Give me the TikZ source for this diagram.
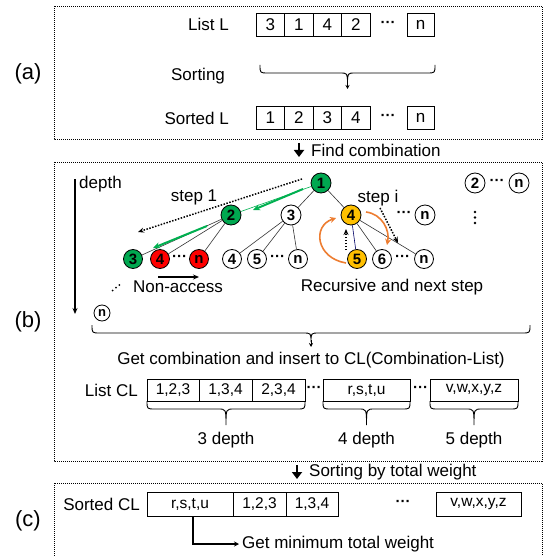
\documentclass[tikz,border=0pt]{standalone}
\usepackage{fontspec}
\setmainfont{Liberation Sans}
\usetikzlibrary{arrows.meta}
\definecolor{gN}{RGB}{0,168,80}
\definecolor{gA}{RGB}{0,176,80}
\definecolor{rN}{RGB}{255,0,0}
\definecolor{yN}{RGB}{255,192,0}
\definecolor{oA}{RGB}{237,125,49}
\newcommand\bracepath[4]{%
 \draw[line width=0.9pt] (#1,#3) .. controls (#1,{#3+8}) .. ({#1+8},{#3+8}) -- ({(#1+#2)/2-8},{#3+8}) .. controls ({(#1+#2)/2},{#3+8}) .. ({(#1+#2)/2},#4) .. controls ({(#1+#2)/2},{#3+8}) .. ({(#1+#2)/2+8},{#3+8}) -- ({#2-8},{#3+8}) .. controls (#2,{#3+8}) .. (#2,#3);}
\begin{document}
\begin{tikzpicture}[x=1pt,y=-1pt,
  lbl/.style={font=\fontsize{17}{17}\selectfont, inner sep=0pt},
  big/.style={font=\fontsize{22}{22}\selectfont, inner sep=0pt},
  cell/.style={draw, line width=0.8pt, minimum height=23pt, inner sep=0pt, font=\fontsize{17}{17}\selectfont},
  clcell/.style={draw, line width=0.8pt, minimum height=22pt, inner sep=0pt, font=\fontsize{15.5}{15.5}\selectfont},
  scell/.style={draw, line width=0.8pt, minimum height=24pt, inner sep=0pt, font=\fontsize{15.5}{15.5}\selectfont},
  dotbox/.style={draw, line width=0.8pt, dash pattern=on 1pt off 1pt},
  dots/.style={font=\fontsize{15}{15}\selectfont\bfseries, inner sep=0pt},
  tn/.style={circle, draw, line width=0.8pt, minimum size=20pt, inner sep=0pt, font=\fontsize{15}{15}\selectfont\bfseries},
  bn/.style={tn, minimum size=19pt},
  ed/.style={line width=0.6pt, draw=black!80},
  garr/.style={line width=2pt, draw=gA, -{Stealth[length=7pt,width=6pt]}},
  dotarr/.style={line width=1.5pt, dash pattern=on 1.5pt off 1.5pt, -{Stealth[length=6pt,width=5pt]}},
  oarr/.style={line width=1.6pt, draw=oA, -{Stealth[length=6pt,width=6pt]}},
  bigdown/.style={line width=2.2pt, -{Triangle[length=7pt,width=10pt]}}
]
\useasboundingbox (0,0) rectangle (546,556);
% section boxes
\draw[dotbox] (54,6) rectangle (542,139);
\draw[dotbox] (54,162) rectangle (542,461);
\draw[dotbox] (54,483) rectangle (542,575);
\node[big] (la) at (28,74) {(a)};
\node[big] (lb) at (28,322) {(b)};
\node[big] (lc) at (28,521) {(c)};

% ---------- (a)
\node[lbl, anchor=east] (listL) at (229,24.5) {List L};
\node[cell, minimum width=28.5pt] (a1) at (270.25,24.5) {3};
\node[cell, minimum width=28.5pt] (a2) at (298.75,24.5) {1};
\node[cell, minimum width=28.5pt] (a3) at (327.25,24.5) {4};
\node[cell, minimum width=28.5pt] (a4) at (355.75,24.5) {2};
\node[dots] (ad) at (388,24) {···};
\node[cell, minimum width=27pt] (an) at (420.5,24.5) {n};
\node[lbl] (sorting) at (198,76) {Sorting};
\bracepath{260}{435}{65}{84}
\coordinate (bt1) at (347.5,82);
\coordinate (bt2) at (347.5,89);
\draw[line width=0.9pt, -{Stealth[length=4pt,width=4pt]}] (bt1) -- (bt2);
\node[lbl, anchor=east] (sortedL) at (229,118) {Sorted L};
\node[cell, minimum width=28.5pt] (s1) at (270.25,118) {1};
\node[cell, minimum width=28.5pt] (s2) at (298.75,118) {2};
\node[cell, minimum width=28.5pt] (s3) at (327.25,118) {3};
\node[cell, minimum width=28.5pt] (s4) at (355.75,118) {4};
\node[dots] (sd) at (388,117.5) {···};
\node[cell, minimum width=27pt] (sn) at (420.5,118) {n};

% Find combination
\coordinate (fa) at (299,143);
\coordinate (fb) at (299,157);
\draw[bigdown] (fa) -- (fb);
\node[lbl, anchor=west] (findc) at (311,150) {Find combination};

% ---------- (b)
\coordinate (dtop) at (75,179);
\coordinate (dbot) at (75,314);
\draw[line width=1.3pt, -{Stealth[length=6pt,width=5pt]}] (dtop) -- (dbot);
\node[lbl, anchor=west] (depth) at (79,184) {depth};
\node[tn, minimum size=16pt, font=\fontsize{13}{13}\selectfont\bfseries] (dn) at (102,313) {n};

% tree nodes
\node[tn, fill=gN] (n1) at (321,183) {1};
\node[tn, fill=gN] (n2) at (231,215) {2};
\node[tn] (n3) at (291,215) {3};
\node[tn, fill=yN] (n4) at (351,215) {4};
\node[dots] (nd) at (404,214.5) {···};
\node[tn] (nn) at (425,215) {n};
\node[tn] (t2) at (475,183) {2};
\node[dots] (td) at (497,182.5) {···};
\node[tn] (tn) at (519,183) {n};
\fill (475,212) circle (1.4pt) (475,217.5) circle (1.4pt) (475,223) circle (1.4pt);

\node[bn, fill=gN] (b3) at (133,259) {3};
\node[bn, fill=rN] (b4) at (160,259) {4};
\node[dots] (bd) at (179.5,258.5) {···};
\node[bn, fill=rN] (bnn) at (199,259) {n};
\node[bn] (c4) at (232,259) {4};
\node[bn] (c5) at (257,259) {5};
\node[dots] (cd) at (277.5,258.5) {···};
\node[bn] (cn) at (298,259) {n};
\node[bn, fill=yN] (y5) at (357,259) {5};
\node[bn] (y6) at (382,259) {6};
\node[dots] (yd) at (402.5,258.5) {···};
\node[bn] (yn) at (424,259) {n};

% edges
\draw[ed, draw=gA] (n1) -- (n2);
\draw[ed] (n1) -- (n3);
\draw[ed] (n1) -- (n4);
\draw[ed] (n2) -- (b3);
\draw[ed] (n2) -- (b4);
\draw[ed] (n2) -- (bnn);
\draw[ed] (n3) -- (c4);
\draw[ed] (n3) -- (c5);
\draw[ed] (n3) -- (cn);
\draw[ed, draw=blue!40!black] (n4) -- (y5);
\draw[ed] (n4) -- (y6);
\draw[ed] (n4) -- (yn);

% step arrows
\coordinate (g1a) at (303,189);
\coordinate (g1b) at (253,210);
\draw[garr] (g1a) -- (g1b);
\coordinate (g2a) at (207,226);
\coordinate (g2b) at (153,248);
\draw[garr] (g2a) -- (g2b);
\coordinate (da) at (302,179);
\coordinate (db) at (138,232);
\draw[dotarr] (da) -- (db);
\node[lbl] (step1) at (194,197) {step 1};
\node[lbl] (stepi) at (378,198) {step i};
\coordinate (sia) at (380,208);
\coordinate (sib) at (398,243);
\draw[dotarr] (sia) -- (sib);
\coordinate (upa) at (346,250);
\coordinate (upb) at (346,229);
\draw[dotarr] (upa) -- (upb);
\coordinate (oa1) at (346,263);
\coordinate (oa2) at (336,218);
\draw[oarr] (oa1) .. controls (316,258) and (312,226) .. (oa2);
\coordinate (ob1) at (366,212);
\coordinate (ob2) at (387,245);
\draw[oarr] (ob1) .. controls (382,214) and (390,230) .. (ob2);
\coordinate (na1) at (158,277);
\coordinate (na2) at (199,277);
\draw[line width=1.5pt, -{Stealth[length=6pt,width=5pt]}] (na1) -- (na2);
\fill (112.7,290.5) circle (1pt) (116,287.7) circle (1pt) (119.3,285) circle (1pt);
\node[lbl] (nonacc) at (178,287) {Non-access};
\node[lbl] (recur) at (392,287) {Recursive and next step};

\bracepath{92}{530}{325}{342}
\coordinate (bb1) at (311,340);
\coordinate (bb2) at (311,347);
\draw[line width=0.9pt, -{Stealth[length=4pt,width=4pt]}] (bb1) -- (bb2);
\node[lbl] (getc) at (311,360) {Get combination and insert to CL(Combination-List)};

\node[lbl, anchor=east] (listCL) at (138,390) {List CL};
\node[clcell, minimum width=52pt] (k1) at (173,390) {1,2,3};
\node[clcell, minimum width=53pt] (k2) at (225.5,390) {1,3,4};
\node[clcell, minimum width=53pt] (k3) at (278.5,390) {2,3,4};
\node[dots] (kd1) at (314,389.5) {···};
\node[clcell, minimum width=87pt] (k4) at (366.5,390) {r,s,t,u};
\node[dots] (kd2) at (420.5,389.5) {···};
\node[clcell, minimum width=88pt] (k5) at (474,390) {v,w,x,y,z};
\bracepath{147}{305}{401}{425}
\bracepath{323}{410}{401}{425}
\bracepath{430}{518}{401}{425}
\node[lbl] (d3) at (226,440) {3 depth};
\node[lbl] (d4) at (366.5,440) {4 depth};
\node[lbl] (d5) at (474,440) {5 depth};

% Sorting by total weight
\coordinate (sa) at (297,465);
\coordinate (sb) at (297,479);
\draw[bigdown] (sa) -- (sb);
\node[lbl, anchor=west] (sbtw) at (309,472) {Sorting by total weight};

% ---------- (c)
\node[lbl, anchor=east] (sortedCL) at (140,504) {Sorted CL};
\node[scell, minimum width=86pt] (m1) at (190,504) {r,s,t,u};
\node[scell, minimum width=53pt] (m2) at (259.5,504) {1,2,3};
\node[scell, minimum width=52pt] (m3) at (312,504) {1,3,4};
\node[dots] (md) at (403,503.5) {···};
\node[scell, minimum width=85pt] (m5) at (478.5,504) {v,w,x,y,z};
\coordinate (lk) at (193,544);
\coordinate (le) at (239,544);
\draw[line width=1.4pt, -{Stealth[length=5pt,width=5pt]}] (m1.south -| lk) -- (lk) -- (le);
\node[lbl, anchor=west] (getmin) at (242,544) {Get minimum total weight};
\end{tikzpicture}
\end{document}
